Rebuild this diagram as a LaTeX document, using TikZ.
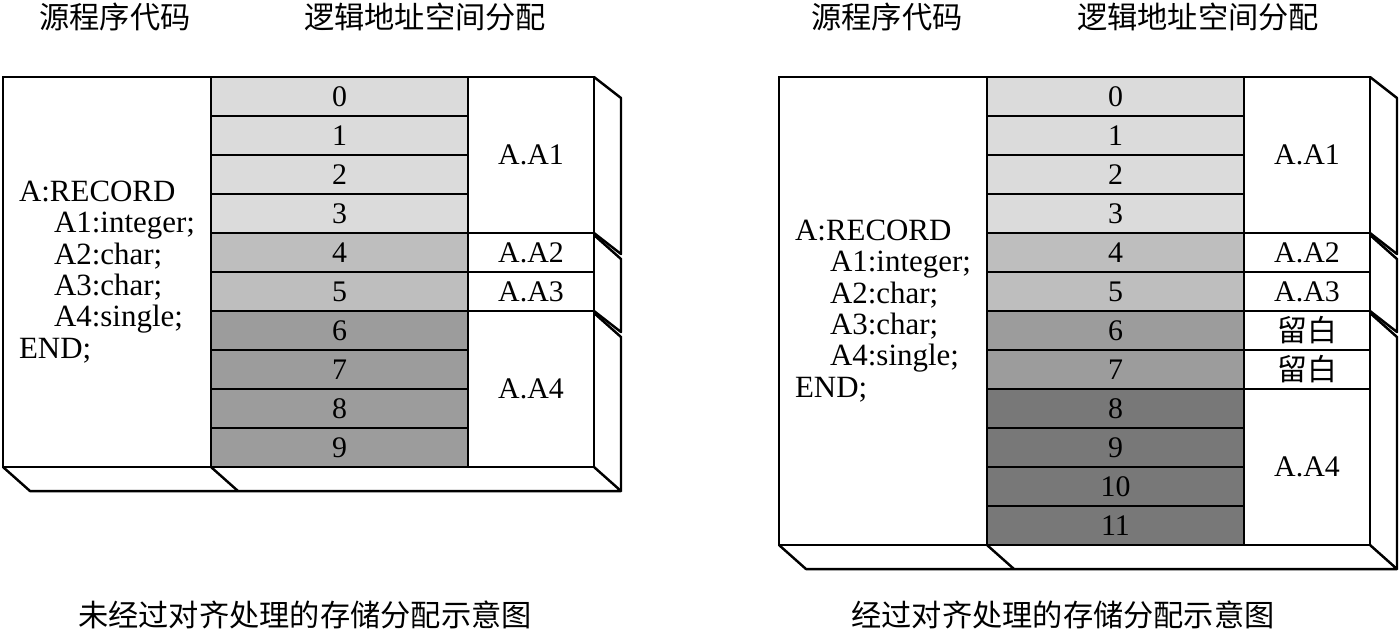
\documentclass[tikz,border=0pt]{standalone}
\usepackage{fontspec}
\setmainfont{Liberation Serif}
\newfontfamily\cjk{Noto Sans CJK SC}
\usepackage{tikz}
\usetikzlibrary{positioning,calc}
\definecolor{shadeA}{gray}{0.86}
\definecolor{shadeB}{gray}{0.745}
\definecolor{shadeC}{gray}{0.61}
\definecolor{shadeD}{gray}{0.47}
\tikzset{
    cell/.style={draw, line width=0.7pt, minimum width=2.57cm, minimum height=0.39cm,
    inner sep=0pt, outer sep=0pt, font=\fontsize{8.5}{9}\selectfont},
    srcbox/.style={draw, line width=0.7pt, fill=white, minimum width=2.08cm, align=left,
    inner sep=0pt, outer sep=0pt, font=\fontsize{8.8}{8.9}\selectfont},
    fieldbox/.style={draw, line width=0.7pt, fill=white, minimum width=1.26cm,
    inner sep=0pt, outer sep=0pt, font=\fontsize{8.5}{9}\selectfont},
    face/.style={draw, line width=0.7pt, line join=round},
    heading/.style={font=\cjk\fontsize{8.6}{9}\selectfont},
}

\begin{document}
\begin{tikzpicture}[node distance=0pt]
            \useasboundingbox (0,0) rectangle (14,-6.34);
            % --- without alignment ---
            \node[heading] (lhead1) at (1.15,-0.17) {源程序代码};
            \node[heading] (lhead2) at (4.25,-0.17) {逻辑地址空间分配};
            \node[srcbox, minimum height=3.90cm, anchor=north west] (lsrc) at (0.03,-0.77)
                {A:RECORD\\\hspace*{0.35cm}A1:integer;\\\hspace*{0.35cm}A2:char;\\
                 \hspace*{0.35cm}A3:char;\\\hspace*{0.35cm}A4:single;\\END;};
            \node[cell, fill=shadeA, anchor=north west] (lm0) at (lsrc.north east) {0};
            \node[cell, fill=shadeA, below=of lm0] (lm1) {1};
            \node[cell, fill=shadeA, below=of lm1] (lm2) {2};
            \node[cell, fill=shadeA, below=of lm2] (lm3) {3};
            \node[cell, fill=shadeB, below=of lm3] (lm4) {4};
            \node[cell, fill=shadeB, below=of lm4] (lm5) {5};
            \node[cell, fill=shadeC, below=of lm5] (lm6) {6};
            \node[cell, fill=shadeC, below=of lm6] (lm7) {7};
            \node[cell, fill=shadeC, below=of lm7] (lm8) {8};
            \node[cell, fill=shadeC, below=of lm8] (lm9) {9};
            \node[fieldbox, minimum height=1.56cm, anchor=north west] (la1) at (lm0.north east) {A.A1};
            \node[fieldbox, minimum height=0.39cm, below=of la1] (la2) {A.A2};
            \node[fieldbox, minimum height=0.39cm, below=of la2] (la3) {A.A3};
            \node[fieldbox, minimum height=1.56cm, below=of la3] (la4) {A.A4};
            % side and bottom faces
            \draw[face] (la1.north east) -- ++(0.27,-0.21) -- ($(la1.south east)+(0.27,-0.21)$) -- (la1.south east);
            \draw[face] ($(la2.north east)+(0,-0.02)$) -- ++(0.27,-0.24) -- ($(la3.south east)+(0.27,-0.21)$) -- (la3.south east);
            \draw[face] ($(la4.north east)+(0,-0.02)$) -- ++(0.27,-0.24) -- ($(la4.south east)+(0.27,-0.24)$);
            \draw[face] (lsrc.south west) -- ++(0.27,-0.24) -- ($(la4.south east)+(0.27,-0.24)$) -- (la4.south east);
            \draw[face] (lsrc.south east) -- ++(0.27,-0.24);
            \node[heading] (lcap) at (3.05,-6.15) {未经过对齐处理的存储分配示意图};
            % --- with alignment ---
            \node[heading] (rhead1) at (8.87,-0.17) {源程序代码};
            \node[heading] (rhead2) at (11.98,-0.17) {逻辑地址空间分配};
            \node[srcbox, minimum height=4.68cm, anchor=north west] (rsrc) at (7.79,-0.77)
                {A:RECORD\\\hspace*{0.35cm}A1:integer;\\\hspace*{0.35cm}A2:char;\\
                 \hspace*{0.35cm}A3:char;\\\hspace*{0.35cm}A4:single;\\END;};
            \node[cell, fill=shadeA, anchor=north west] (rm0) at (rsrc.north east) {0};
            \node[cell, fill=shadeA, below=of rm0] (rm1) {1};
            \node[cell, fill=shadeA, below=of rm1] (rm2) {2};
            \node[cell, fill=shadeA, below=of rm2] (rm3) {3};
            \node[cell, fill=shadeB, below=of rm3] (rm4) {4};
            \node[cell, fill=shadeB, below=of rm4] (rm5) {5};
            \node[cell, fill=shadeC, below=of rm5] (rm6) {6};
            \node[cell, fill=shadeC, below=of rm6] (rm7) {7};
            \node[cell, fill=shadeD, below=of rm7] (rm8) {8};
            \node[cell, fill=shadeD, below=of rm8] (rm9) {9};
            \node[cell, fill=shadeD, below=of rm9] (rm10) {10};
            \node[cell, fill=shadeD, below=of rm10] (rm11) {11};
            \node[fieldbox, minimum height=1.56cm, anchor=north west] (ra1) at (rm0.north east) {A.A1};
            \node[fieldbox, minimum height=0.39cm, below=of ra1] (ra2) {A.A2};
            \node[fieldbox, minimum height=0.39cm, below=of ra2] (ra3) {A.A3};
            \node[fieldbox, minimum height=0.39cm, below=of ra3] (rpad1) {\cjk 留白};
            \node[fieldbox, minimum height=0.39cm, below=of rpad1] (rpad2) {\cjk 留白};
            \node[fieldbox, minimum height=1.56cm, below=of rpad2] (ra4) {A.A4};
            % side and bottom faces
            \draw[face] (ra1.north east) -- ++(0.27,-0.21) -- ($(ra1.south east)+(0.27,-0.21)$) -- (ra1.south east);
            \draw[face] ($(ra2.north east)+(0,-0.02)$) -- ++(0.27,-0.24) -- ($(ra3.south east)+(0.27,-0.21)$) -- (ra3.south east);
            \draw[face] ($(rpad1.north east)+(0,-0.02)$) -- ++(0.27,-0.24) -- ($(ra4.south east)+(0.27,-0.24)$);
            \draw[face] (rsrc.south west) -- ++(0.27,-0.24) -- ($(ra4.south east)+(0.27,-0.24)$) -- (ra4.south east);
            \draw[face] (rsrc.south east) -- ++(0.27,-0.24);
            \node[heading] (rcap) at (10.63,-6.15) {经过对齐处理的存储分配示意图};
        \end{tikzpicture}
\end{document}
